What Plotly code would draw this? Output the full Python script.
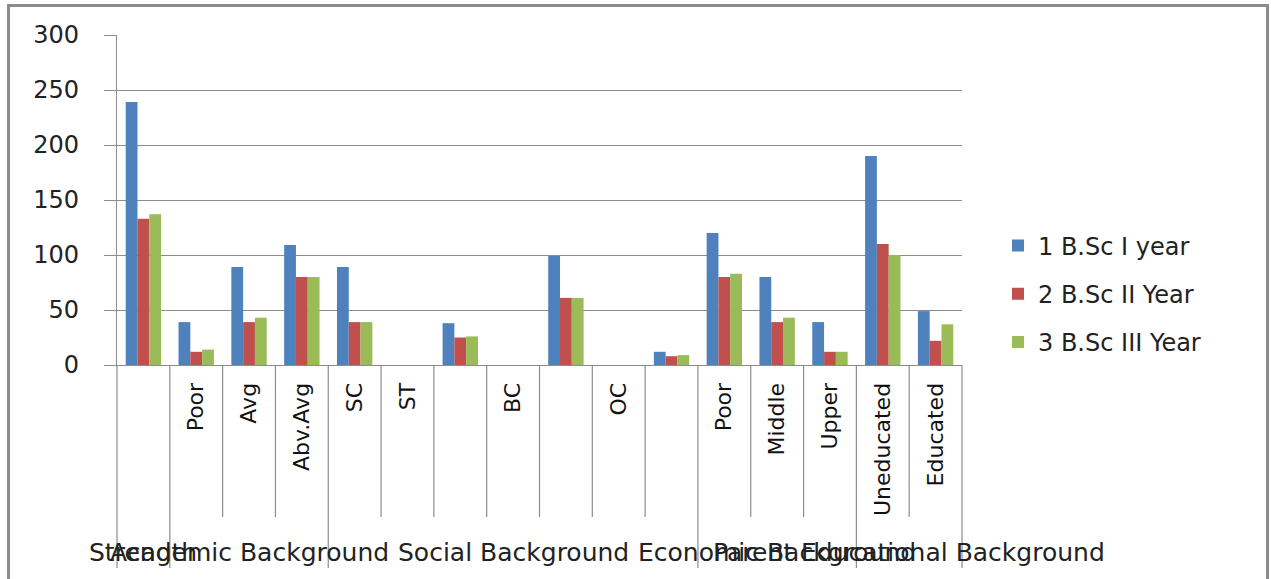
import plotly.graph_objects as go
import numpy as np

# ---- data ----
categories = ["", "Poor", "Avg", "Abv.Avg", "SC", "ST", "", "BC", "", "OC", "",
              "Poor", "Middle", "Upper", "Uneducated", "Educated"]
series_names = ["1 B.Sc I year", "2 B.Sc II Year", "3 B.Sc III Year"]
bsc1 = [239, 39, 89, 109, 89, 0, 38, 0, 99, 0, 12, 120, 80, 39, 190, 49]
bsc2 = [133, 12, 39, 80, 39, 0, 25, 0, 61, 0, 8, 80, 39, 12, 110, 22]
bsc3 = [137, 14, 43, 80, 39, 0, 26, 0, 61, 0, 9, 83, 43, 12, 100, 37]
group_names = ["Strength", "Academic Background", "Social Background",
               "Economic Background", "Parent Educational Background"]
group_sizes = [1, 3, 7, 3, 2]
y_ticks = [0, 50, 100, 150, 200, 250, 300]

colors = ["#4F81BD", "#C0504D", "#9BBB59"]
FONT = "DejaVu Sans"
W, H = 1271, 579
L, R, T, B = 117, 962, 35, 365  # plot area in px
n = len(categories)
x_idx = list(range(n))

fig = go.Figure()
for i, (name, vals) in enumerate(zip(series_names, [bsc1, bsc2, bsc3])):
    fig.add_trace(go.Bar(
        x=x_idx, y=vals, name=name, marker_color=colors[i],
        marker_line_width=0, legendgroup=name,
    ))

def py(pix):  # pixel y -> paper y
    return (B - pix) / (B - T)

def px(pix):  # pixel x -> paper x
    return (pix - L) / (R - L)

shapes = []
long_bounds = set(np.cumsum([0] + group_sizes).tolist())
for b in range(n + 1):
    y_end = 568 if b in long_bounds else 517
    shapes.append(dict(type="line", xref="paper", yref="paper",
                       x0=b / n, x1=b / n, y0=0, y1=py(y_end),
                       line=dict(color="#8C8C8C", width=1.2)))
# outer border
shapes.append(dict(type="rect", xref="paper", yref="paper",
                   x0=px(8.5), x1=px(1267.5), y0=py(640), y1=py(5.5),
                   line=dict(color="#8C8C8C", width=3), fillcolor="rgba(0,0,0,0)"))

annotations = []
start = 0
for gname, gs in zip(group_names, group_sizes):
    center = start + gs / 2 - 0.5
    annotations.append(dict(x=center, xref="x", y=py(552), yref="paper",
                            text=gname, showarrow=False, xanchor="center",
                            yanchor="middle",
                            font=dict(family=FONT, size=25, color="#222222")))
    start += gs

fig.update_layout(
    width=W, height=H,
    margin=dict(l=L, r=W - R, t=T, b=H - B, autoexpand=False),
    paper_bgcolor="white", plot_bgcolor="white",
    barmode="group", bargap=0.33, bargroupgap=0,
    shapes=shapes, annotations=annotations,
    legend=dict(x=px(998), xanchor="left", y=py(294), yanchor="middle",
                font=dict(family=FONT, size=24, color="#222222"),
                traceorder="grouped", tracegroupgap=14,
                bgcolor="rgba(0,0,0,0)"),
    font=dict(family=FONT, color="#222222"),
)
fig.update_xaxes(
    range=[-0.5, n - 0.5], tickmode="array", tickvals=x_idx, ticktext=categories,
    tickangle=-90, ticks="", ticklabelstandoff=8,
    tickfont=dict(family=FONT, size=22, color="#111111"),
    showgrid=False, showline=True, linecolor="#8C8C8C", linewidth=1.2, zeroline=False,
)
fig.update_yaxes(
    range=[0, 300], tickmode="array", tickvals=y_ticks,
    ticks="outside", ticklen=12, tickcolor="#8C8C8C", tickwidth=1.2,
    ticklabelstandoff=20,
    tickfont=dict(family=FONT, size=24, color="#222222"),
    showgrid=True, gridcolor="#8C8C8C", gridwidth=1.2,
    showline=True, linecolor="#8C8C8C", linewidth=1.2, zeroline=False,
)

fig.write_html(
    "out.html",
    config={"displayModeBar": False},
    post_script="document.body.style.margin='0';document.body.style.overflow='hidden';",
)
